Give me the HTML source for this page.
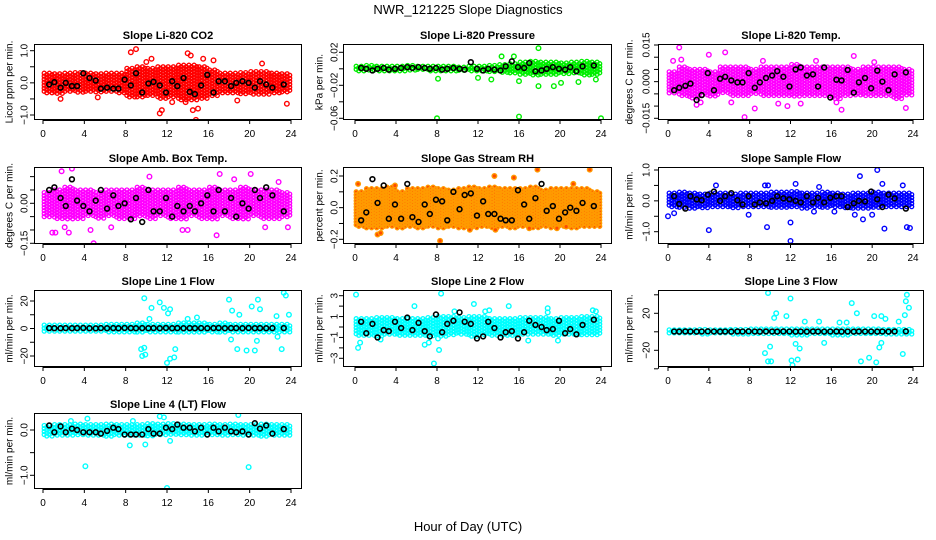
<!DOCTYPE html>
<html><head><meta charset="utf-8"><style>
html,body{margin:0;padding:0;background:#fff}
svg{display:block;font-family:"Liberation Sans",sans-serif}
</style></head><body>
<svg id="chart" width="936" height="540" viewBox="0 0 936 540" xmlns="http://www.w3.org/2000/svg">
<text x="468" y="14" text-anchor="middle" font-size="13">NWR_121225  Slope Diagnostics</text>
<text x="468" y="531" text-anchor="middle" font-size="13">Hour of Day (UTC)</text>
</svg>
<script>
// ---- shared data ----
const xTicks = [0,4,8,12,16,20,24];
const blackHours = [0.6,1.1,1.7,2.2,2.8,3.3,3.9,4.5,5.1,5.6,6.2,6.8,7.3,7.9,8.5,9.0,9.6,10.2,10.7,11.3,11.9,12.5,13.0,13.6,14.2,14.7,15.3,15.9,16.5,17.0,17.6,18.2,18.7,19.3,19.9,20.5,21.0,21.6,22.2,23.3];

// Panel 1 CO2
const co2Black = [-0.05,0.02,-0.15,0.0,-0.1,-0.1,0.3,0.15,0.07,-0.18,-0.15,-0.18,-0.18,0.1,-0.08,0.3,-0.3,-0.02,0.03,-0.08,-0.3,0.05,-0.1,0.15,-0.28,-0.35,-0.08,0.25,-0.3,0.05,0.05,-0.1,0.0,0.05,0.0,-0.15,0.05,-0.05,-0.15,-0.05];
const co2Hi = [0.3,0.28,0.3,0.32,0.3,0.28,0.3,0.3,0.45,0.5,0.45,0.5,0.5,0.55,0.55,0.5,0.4,0.3,0.3,0.32,0.35,0.35,0.3,0.28];
const co2Lo = [-0.35,-0.35,-0.3,-0.3,-0.3,-0.3,-0.28,-0.35,-0.45,-0.45,-0.4,-0.5,-0.45,-0.55,-0.55,-0.5,-0.4,-0.35,-0.35,-0.35,-0.38,-0.35,-0.32,-0.3];
const co2OutH = [8.5,9,10,10.5,11.3,11.5,14,14.3,14.5,14.8,15,15.5,1.7,5.3,18.8,21.2,23.6,12.5,13.8,16.5];
const co2OutV = [0.95,1.05,0.65,0.75,-0.95,-0.85,0.92,0.85,-0.85,-1.15,-0.8,0.75,-0.5,-0.45,-0.55,0.6,-0.65,-0.6,-0.6,0.7];
const co2Ticks = [-1,-0.5,0,0.5,1];
const co2Labels = ["−1.0","","0.0","","1.0"];

// Panel 2 Pressure
const presBlack = [0.001,0,-0.002,0,0.001,-0.001,0,0.001,0.002,0.001,0.002,0.001,0,0.001,-0.001,0,0.001,0,-0.001,0.008,0,-0.002,0,-0.001,-0.002,0.003,0.009,0.002,0.001,0.007,-0.003,-0.002,0,0.002,0,-0.001,0.002,-0.003,0.003,0.004];
const presHi = [0.003,0.004,0.003,0.003,0.003,0.004,0.003,0.003,0.003,0.003,0.002,0.003,0.003,0.004,0.005,0.006,0.008,0.009,0.008,0.008,0.007,0.008,0.009,0.008];
const presLo = [-0.003,-0.003,-0.003,-0.003,-0.003,-0.003,-0.002,-0.003,-0.003,-0.003,-0.003,-0.003,-0.003,-0.004,-0.005,-0.006,-0.008,-0.009,-0.008,-0.007,-0.007,-0.006,-0.008,-0.008];
const presOutH = [8,16,24,17.9,17.9,19.4,8.1,12,13.3,16,15.5,14.3,21.8,23.5,20.1];
const presOutV = [-0.06,-0.058,-0.06,0.025,-0.021,-0.021,-0.012,-0.011,-0.013,-0.015,0.015,0.015,-0.016,-0.013,-0.017];
const presTicks = [-0.06,-0.04,-0.02,0,0.02];
const presLabels = ["−0.06","","−0.02","","0.02"];

// Panel 3 Li-820 Temp
const tempBlack = [-0.0035,-0.0025,-0.0017,-0.0008,-0.0075,-0.0055,0.0035,-0.0035,0.0012,0.002,0.0005,-0.0003,-0.0003,0.0035,-0.0025,-0.0003,0.0015,0.0025,0.0043,0.002,-0.002,0.005,0.0058,0.0025,0.003,-0.002,0.0058,-0.0065,0.0008,0.0005,0.0048,-0.0045,-0.0003,0.0015,-0.0027,0.0045,0.0,-0.0035,0.003,0.0038];
const tempHi = [0.004,0.006,0.005,0.005,0.004,0.006,0.006,0.006,0.005,0.006,0.006,0.006,0.007,0.006,0.006,0.006,0.006,0.006,0.005,0.006,0.006,0.006,0.006,0.005];
const tempLo = [-0.005,-0.006,-0.007,-0.006,-0.006,-0.005,-0.006,-0.006,-0.005,-0.006,-0.006,-0.006,-0.006,-0.006,-0.006,-0.006,-0.007,-0.006,-0.006,-0.006,-0.006,-0.006,-0.007,-0.006];
const tempOutH = [1.1,0.5,1.3,7.5,2.8,3.2,6.2,8.5,9.3,14.5,18.2,23.3,20.2,10.8,11.7,16.5,17,13,5.6,4.0];
const tempOutV = [0.014,0.0085,0.009,-0.0145,-0.0095,-0.0085,-0.0085,-0.011,0.0085,0.0085,0.0105,-0.0108,0.008,-0.009,-0.010,-0.0085,-0.0115,-0.009,0.012,0.011];
const tempTicks = [-0.015,-0.01,-0.005,0,0.005,0.01,0.015];
const tempLabels = ["−0.015","","","0.000","","","0.015"];

// Panel 4 Amb. Box Temp
const ambBlack = [0.05,0.06,0.02,-0.01,0.09,0.01,-0.01,-0.03,0.01,0.05,-0.02,0.03,-0.01,0.0,-0.06,0.02,-0.07,0.05,-0.03,-0.03,0.02,-0.05,-0.01,-0.03,-0.01,-0.03,0.0,0.03,-0.03,0.05,-0.03,0.02,-0.05,0.0,-0.02,0.05,0.02,0.06,0.03,-0.03];
const ambHi = [0.04,0.05,0.06,0.05,0.05,0.04,0.05,0.05,0.05,0.06,0.05,0.05,0.05,0.06,0.05,0.05,0.06,0.05,0.05,0.06,0.05,0.05,0.05,0.04];
const ambLo = [-0.05,-0.06,-0.06,-0.06,-0.05,-0.06,-0.05,-0.06,-0.06,-0.05,-0.06,-0.05,-0.06,-0.06,-0.05,-0.06,-0.06,-0.05,-0.06,-0.06,-0.05,-0.06,-0.06,-0.05];
const ambOutH = [2.5,2.8,1.8,0.9,1.2,2.1,2.5,4.9,4.6,6.6,10.3,13.5,14.0,16.8,17.1,20.1,18.5,22.8,23.7,21.5];
const ambOutV = [0.15,0.13,0.12,-0.11,-0.11,-0.09,-0.11,-0.15,-0.1,-0.09,0.1,-0.1,-0.1,-0.12,0.11,0.11,0.09,0.08,-0.09,-0.09];
const ambTicks = [-0.15,-0.1,-0.05,0,0.05,0.1];
const ambLabels = ["−0.15","","","0.00","",""];

// Panel 5 Gas Stream RH
const rhBlack = [-0.08,-0.03,0.18,0.03,0.14,-0.07,0.02,-0.07,0.15,-0.06,-0.09,0.02,-0.04,0.05,0.04,-0.08,0.1,-0.01,0.08,0.09,-0.05,0.04,-0.04,-0.04,-0.07,-0.08,-0.08,0.11,0.02,-0.07,0.06,0.15,-0.02,0.01,-0.07,-0.03,0.0,-0.02,0.03,0.01];
const rhHi = [0.1,0.12,0.12,0.13,0.1,0.12,0.12,0.13,0.12,0.11,0.12,0.13,0.12,0.13,0.12,0.12,0.12,0.13,0.11,0.12,0.12,0.12,0.12,0.1];
const rhLo = [-0.12,-0.13,-0.13,-0.12,-0.13,-0.12,-0.13,-0.12,-0.13,-0.12,-0.13,-0.13,-0.12,-0.13,-0.12,-0.13,-0.12,-0.13,-0.12,-0.13,-0.12,-0.13,-0.12,-0.12];
const rhOutH = [8.3,17.8,22.9,2.2,2.5,13.6,15.5,0.3,19.7,3.9,13.7,17,20.6,21.3,11.2];
const rhOutV = [-0.21,0.24,0.24,-0.17,-0.16,0.2,0.19,0.15,-0.13,0.14,-0.14,-0.13,-0.12,0.15,-0.14];
const rhTicks = [-0.2,-0.1,0,0.1,0.2];
const rhLabels = ["−0.2","","0.0","","0.2"];

// Panel 6 Sample Flow
const sfBlack = [0.15,-0.1,-0.25,0.15,0.05,0.02,0.2,0.3,0.0,0.15,0.25,0.02,-0.12,0.15,-0.12,-0.05,-0.08,0.0,0.15,0.08,0.05,0.0,-0.05,0.15,-0.05,0.1,-0.05,0.1,0.15,0.15,-0.2,-0.08,0.0,-0.02,0.3,0.05,-0.2,0.2,0.08,-0.25];
const sfHi = [0.25,0.28,0.25,0.22,0.25,0.25,0.22,0.25,0.25,0.25,0.28,0.28,0.3,0.25,0.25,0.28,0.25,0.22,0.25,0.25,0.28,0.25,0.25,0.25];
const sfLo = [-0.2,-0.22,-0.25,-0.22,-0.22,-0.2,-0.22,-0.22,-0.2,-0.22,-0.22,-0.25,-0.22,-0.25,-0.22,-0.22,-0.2,-0.22,-0.25,-0.25,-0.22,-0.22,-0.2,-0.22];
const sfOutH = [0,4.0,9.7,12,12,18.8,20.5,19.1,21.2,23.4,23.7,4.7,9.5,9.8,12.5,14.8,21,23,0.6,14.3,16.3,18.3,20,7.9];
const sfOutV = [-0.5,-0.95,-0.85,-1.3,-0.7,0.8,1.0,-0.6,-0.9,-0.85,-0.88,0.5,0.5,0.5,0.55,0.45,0.55,0.5,-0.4,-0.35,-0.35,-0.45,-0.45,-0.45];
const sfTicks = [-1,-0.5,0,0.5,1];
const sfLabels = ["−1.0","","0.0","","1.0"];

// Panel 7 Line 1 Flow
const l1Black = [0.3,0.2,0.2,0.3,0.2,0.3,0.4,0.2,0.1,0.3,0.2,0.3,0.2,0.4,0.3,0.2,0.3,0.2,0.3,0.2,0.4,0.2,0.3,0.2,0.3,0.2,0.3,0.2,0.3,0.4,0.2,0.3,0.3,0.2,0.4,0.2,0.3,0.2,0.3,0.3];
const l1Hi = [2.5,2.5,2.5,2.5,2.5,2.5,3,3,3,4,3,3,3,4,4,4,3,4,3,3,3,3,3,3];
const l1Lo = [-2.5,-2.5,-2.5,-2.5,-2.5,-2.5,-2.5,-3,-3,-3,-3,-3,-3,-3,-3,-3,-3,-3,-3,-3,-3,-3,-3,-3];
const l1OutH = [9.8,10.5,11.3,11.7,12.3,12.1,9.5,9.8,9.6,9.9,12.0,12.3,12.7,12.8,18.0,18.3,19.0,18.2,18.8,19.7,20.2,20.8,21.0,20.5,20.7,23.3,23.5,23.8,23.1,22.7,22.6,14.9,14,10.3];
const l1OutV = [22,15,19,15,14,11,-15,-14,-20,-19,-25,-22,-21,-15,21,13,10,-8,-15,-16,16,21,14,-16,-9,26,24,10,-15,-6,9,8,7,7];
const l1Ticks = [-20,-10,0,10,20];
const l1Labels = ["−20","","0","","20"];

// Panel 8 Line 2 Flow
const l2Black = [0.5,-0.6,0.3,-1.0,-0.3,-0.4,0.5,-0.1,0.9,-0.3,0.4,-0.4,-0.9,1.2,-0.5,0.3,0.6,1.4,0.5,0.3,-1.1,-0.9,0.5,-0.1,-1.0,-0.5,-0.4,-1.1,-0.5,0.6,0.2,0.0,-0.3,-0.2,0.6,-0.6,-0.2,-0.7,0.2,0.7];
const l2Hi = [0.8,0.8,0.9,0.9,0.8,0.8,0.8,0.9,1.0,1.0,0.9,1.0,1.0,0.8,0.8,0.8,0.9,0.9,0.9,0.8,0.9,0.9,1.0,1.0];
const l2Lo = [-0.8,-0.8,-0.9,-0.8,-0.8,-0.8,-0.9,-0.9,-0.9,-0.8,-0.8,-0.9,-0.8,-0.9,-0.9,-0.9,-0.8,-0.8,-0.8,-0.8,-0.8,-0.8,-0.8,-0.8];
const l2OutH = [0.1,0.3,0.5,8.4,7.7,8.2,8.1,5.8,11.6,15.0,18.8,18.8,6.8,7.2,13.1,12.7,16.9,19.8,23.2,23.5,9.7,2.5];
const l2OutV = [3.1,-2.0,-1.5,3.2,-3.5,-2.2,-1.1,2.0,2.2,2.0,1.8,1.4,-1.7,-1.5,1.6,1.5,-1.3,-1.3,1.6,1.5,1.5,-1.2];
const l2Ticks = [-3,-2,-1,0,1,2,3];
const l2Labels = ["−3","","−1","","1","","3"];

// Panel 9 Line 3 Flow
const l3Black = [0.3,0.2,0.4,0.3,0.2,0.3,0.5,0.3,0.2,0.3,0.2,0.4,0.3,0.5,0.3,0.2,0.4,0.3,0.2,0.4,0.3,0.2,0.3,0.2,0.4,0.3,0.2,0.3,0.4,0.2,0.3,0.2,0.4,0.3,0.3,0.2,0.3,0.2,0.4,0.5];
const l3Hi = [2,2,2,2.5,2,2,2.5,2.5,3,3,3,3,3,3,3,3,3,3,3,3,3,2.5,2.5,2.5];
const l3Lo = [-2,-2,-2,-2.5,-2,-2,-2.5,-3,-3,-3,-3,-3,-3.5,-3.5,-3,-3,-3.5,-3.5,-3,-3,-3,-3,-3,-3];
const l3OutH = [9.8,12.0,18.0,18.5,23.4,23.3,23.6,23.2,10.6,10.4,11.6,20.2,20.9,21.3,22.6,9.5,9.8,10.1,10.0,12.1,12.2,12.7,12.9,12.5,18.9,19.7,20.4,20.7,20.9,23.0,15.3,13.4,14.8,16.8,17.5];
const l3OutV = [42,36,31,20,40,33,26,18,20,15,17,17,17,14,11,-23,-32,-32,-16,-31,-36,-30,-18,-13,-32,-28,-33,-17,-12,-24,-12,11,11,10,10];
const l3Ticks = [-40,-20,0,20,40];
const l3Labels = ["","−20","","20",""];

// Panel 10 Line 4 (LT) Flow
const l4Black = [0.1,-0.05,0.08,-0.05,0.03,0.0,-0.05,-0.05,-0.05,-0.08,-0.02,0.05,0.02,-0.1,-0.1,-0.1,-0.1,0.02,-0.08,-0.08,0.05,0.02,0.12,0.05,0.05,-0.03,0.05,-0.1,0.05,-0.03,0.05,-0.03,-0.05,-0.03,-0.1,0.15,0.03,0.1,-0.08,0.02];
const l4Hi = [0.1,0.12,0.12,0.13,0.12,0.12,0.13,0.12,0.12,0.12,0.14,0.13,0.14,0.13,0.12,0.12,0.13,0.12,0.13,0.12,0.12,0.13,0.12,0.12];
const l4Lo = [-0.15,-0.14,-0.13,-0.12,-0.14,-0.13,-0.14,-0.13,-0.12,-0.13,-0.13,-0.12,-0.12,-0.13,-0.12,-0.13,-0.12,-0.13,-0.12,-0.13,-0.13,-0.14,-0.13,-0.12];
const l4OutH = [4.1,12.0,19.9,8.4,9.9,18.9,11.3,11.7,12.3,8.7,2.7,4.3];
const l4OutV = [-0.8,-1.28,-0.82,-0.34,-0.32,0.33,0.3,0.28,-0.24,0.2,0.2,0.25];
const l4Ticks = [-1,-0.5,0];
const l4Labels = ["−1.0","","0.0"];

// ---- layout (not data) ----
const cols = [{l:34,r:302,x0:43,x24:291,lab:10,tl:25},{l:343,r:612,x0:355,x24:601,lab:320,tl:335},{l:658,r:924,x0:668,x24:913,lab:630,tl:647}];
const rows = [{t:44,b:120},{t:167,b:244},{t:290,b:367},{t:413,b:489}];

const panels = [
 {name:'co2',title:'Slope Li-820 CO2',ylab:'Licor ppm per min.',c:0,r:0,v1:1,p1:50.7,v2:-1,p2:115,col:'#ff0000',fill:'none',black:co2Black,hi:co2Hi,lo:co2Lo,oh:co2OutH,ov:co2OutV,ticks:co2Ticks,labels:co2Labels},
 {name:'pressure',title:'Slope Li-820 Pressure',ylab:'kPa per min.',c:1,r:0,v1:0.02,p1:52.3,v2:-0.06,p2:118.3,col:'#00ee00',fill:'none',black:presBlack,hi:presHi,lo:presLo,oh:presOutH,ov:presOutV,ticks:presTicks,labels:presLabels},
 {name:'li820-temp',title:'Slope Li-820 Temp.',ylab:'degrees C per min.',c:2,r:0,v1:0.015,p1:45,v2:-0.015,p2:118.3,col:'#ff00ff',fill:'none',black:tempBlack,hi:tempHi,lo:tempLo,oh:tempOutH,ov:tempOutV,ticks:tempTicks,labels:tempLabels},
 {name:'amb-box-temp',title:'Slope Amb. Box Temp.',ylab:'degrees C per min.',c:0,r:1,v1:0,p1:203.3,v2:-0.15,p2:243.3,col:'#ff00ff',fill:'none',black:ambBlack,hi:ambHi,lo:ambLo,oh:ambOutH,ov:ambOutV,ticks:ambTicks,labels:ambLabels},
 {name:'gas-stream-rh',title:'Slope Gas Stream RH',ylab:'percent per min.',c:1,r:1,v1:0.2,p1:176,v2:-0.2,p2:239.3,col:'#ff9a00',fill:'#ff4a00',black:rhBlack,hi:rhHi,lo:rhLo,oh:rhOutH,ov:rhOutV,ticks:rhTicks,labels:rhLabels},
 {name:'sample-flow',title:'Slope Sample Flow',ylab:'ml/min per min.',c:2,r:1,v1:1,p1:170,v2:-1,p2:231.7,col:'#0000ff',fill:'none',black:sfBlack,hi:sfHi,lo:sfLo,oh:sfOutH,ov:sfOutV,ticks:sfTicks,labels:sfLabels},
 {name:'line1-flow',title:'Slope Line 1 Flow',ylab:'ml/min per min.',c:0,r:2,v1:20,p1:301,v2:-20,p2:356,col:'#00ffff',fill:'none',black:l1Black,hi:l1Hi,lo:l1Lo,oh:l1OutH,ov:l1OutV,ticks:l1Ticks,labels:l1Labels},
 {name:'line2-flow',title:'Slope Line 2 Flow',ylab:'ml/min per min.',c:1,r:2,v1:3,p1:295.7,v2:-3,p2:358.3,col:'#00ffff',fill:'none',black:l2Black,hi:l2Hi,lo:l2Lo,oh:l2OutH,ov:l2OutV,ticks:l2Ticks,labels:l2Labels},
 {name:'line3-flow',title:'Slope Line 3 Flow',ylab:'ml/min per min.',c:2,r:2,v1:20,p1:313.3,v2:-20,p2:350.3,col:'#00ffff',fill:'none',black:l3Black,hi:l3Hi,lo:l3Lo,oh:l3OutH,ov:l3OutV,ticks:l3Ticks,labels:l3Labels},
 {name:'line4-flow',title:'Slope Line 4 (LT) Flow',ylab:'ml/min per min.',c:0,r:3,v1:0,p1:430,v2:-1,p2:475.3,col:'#00ffff',fill:'none',black:l4Black,hi:l4Hi,lo:l4Lo,oh:l4OutH,ov:l4OutV,ticks:l4Ticks,labels:l4Labels}
];

const NS='http://www.w3.org/2000/svg';
const svg=document.getElementById('chart');
function mk(tag,attrs,parent){const e=document.createElementNS(NS,tag);for(const k in attrs)e.setAttribute(k,attrs[k]);parent.appendChild(e);return e;}

panels.forEach((p,pi)=>{
  const C=cols[p.c],R=rows[p.r];
  const xs=h=>C.x0+(C.x24-C.x0)*h/24;
  const ys=v=>p.p1+(p.p2-p.p1)*(v-p.v1)/(p.v2-p.v1);
  const g=mk('g',{},svg);
  
  
  const cp=mk('clipPath',{id:'clip'+pi},g);
  mk('rect',{x:C.l,y:R.t,width:C.r-C.l,height:R.b-R.t},cp);
  const t=mk('text',{x:(C.l+C.r)/2,y:R.t-5,'text-anchor':'middle','font-size':11,'font-weight':'bold'},g);
  t.textContent=p.title;
  
  
  const yl=mk('text',{x:C.lab,y:(R.t+R.b)/2,'text-anchor':'middle','font-size':10,transform:'rotate(-90 '+C.lab+' '+((R.t+R.b)/2)+')','dominant-baseline':'middle'},g);
  yl.textContent=p.ylab;
  
  
  const pts=mk('g',{'clip-path':'url(#clip'+pi+')'},g);
  
  
  let d='';
  for(let i=0;i<24;i++){
    const yTop=ys(p.hi[i]),yBot=ys(p.lo[i]);
    for(let k=0;k<4;k++){
      const px=xs(i+0.12+k*0.25);
      const off=(k%2)*1.5;
      for(let py=yTop+off;py<=yBot;py+=3){d+='M'+(px-2).toFixed(1)+' '+py.toFixed(1)+'a2 2 0 1 0 4 0a2 2 0 1 0 -4 0';}
    }
  }
  const band=mk('path',{d:d,fill:p.fill,stroke:p.col,'stroke-width':1.3},pts);
  
  
  p.oh.forEach((h,i)=>{
    const c=mk('circle',{cx:xs(h),cy:ys(p.ov[i]),r:2.3,fill:p.fill,stroke:p.col,'stroke-width':1.4},pts);
    
    
  });
  blackHours.forEach((h,i)=>{
    const c=mk('circle',{cx:xs(h),cy:ys(p.black[i]),r:2.4,fill:'none',stroke:'#000','stroke-width':1.6},pts);
    
    
  });
  const box=mk('rect',{x:C.l+0.5,y:R.t+0.5,width:C.r-C.l-1,height:R.b-R.t-1,fill:'none',stroke:'#000','stroke-width':1},g);
  
  
  const xa=mk('g',{},g);
  
  
  mk('line',{x1:xs(0),x2:xs(24),y1:R.b+0.5,y2:R.b+0.5,stroke:'#000'},xa);
  xTicks.forEach(v=>{
    mk('line',{x1:xs(v),x2:xs(v),y1:R.b,y2:R.b+4,stroke:'#000'},xa);
    const tx=mk('text',{x:xs(v),y:R.b+17,'text-anchor':'middle','font-size':10},xa);
    tx.textContent=String(v);
    
    
  });
  const ya=mk('g',{},g);
  
  
  mk('line',{x1:C.l+0.5,x2:C.l+0.5,y1:ys(p.ticks[0]),y2:ys(p.ticks[p.ticks.length-1]),stroke:'#000'},ya);
  p.ticks.forEach((v,i)=>{
    const y=ys(v);
    mk('line',{x1:C.l-4,x2:C.l,y1:y,y2:y,stroke:'#000'},ya);
    if(p.labels[i]){
      const tx=mk('text',{x:C.tl,y:y,'text-anchor':'middle','font-size':10,'dominant-baseline':'middle',transform:'rotate(-90 '+C.tl+' '+y+')'},ya);
      tx.textContent=p.labels[i];
      
      
    }
  });
});
</script>
</body></html>
